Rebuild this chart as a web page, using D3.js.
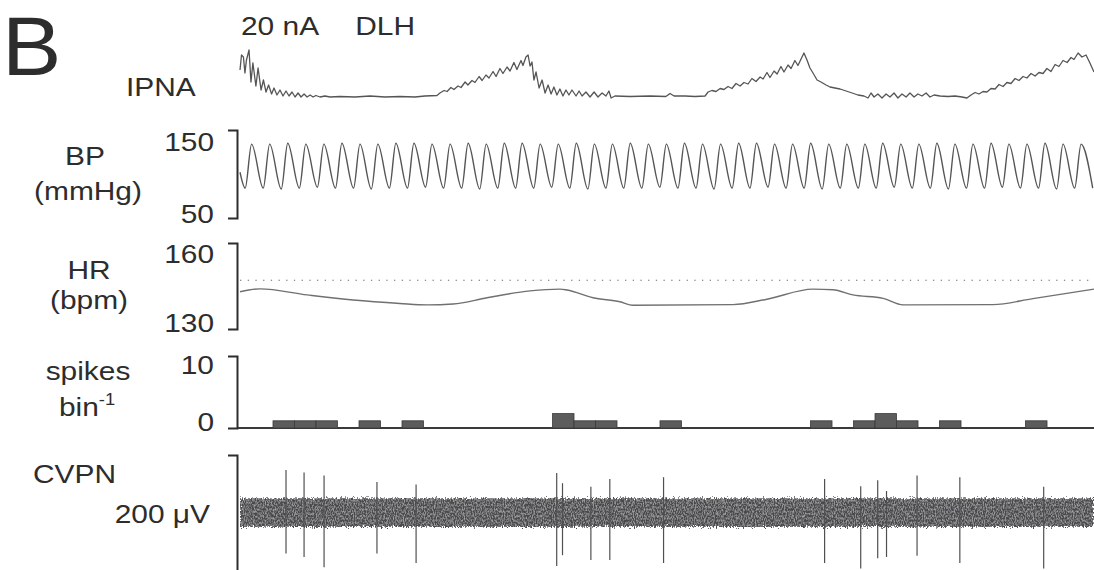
<!DOCTYPE html>
<html>
<head>
<meta charset="utf-8">
<script src="https://cdn.jsdelivr.net/npm/d3@7"></script>
<style>
  html, body { margin: 0; padding: 0; background: #fff; }
  svg { display: block; }
</style>
</head>
<body>
<svg id="fig" width="1094" height="570"></svg>
<script>
// ---- recording window (s); spike histogram uses 1 s bins ----
const duration = 39.72;

// IPNA (integrated phrenic activity, arbitrary units 0-100)
const ipnaT = [0.00,0.07,0.16,0.23,0.30,0.42,0.51,0.60,0.74,0.84,0.98,1.09,1.21,1.33,1.47,1.58,1.72,1.86,2.00,2.14,2.28,2.42,2.56,2.70,2.84,2.98,3.12,3.26,3.40,3.53,3.72,3.95,4.19,4.65,5.35,6.05,6.74,7.44,8.14,8.60,9.16,
  9.30,9.49,9.63,9.81,9.95,10.14,10.28,10.47,10.60,10.79,10.93,11.12,11.26,11.44,11.58,11.77,11.91,12.09,12.23,12.42,12.56,12.74,12.88,13.07,13.16,13.30,13.40,13.49,13.58,13.67,13.77,13.91,14.05,14.19,14.33,14.47,14.60,14.74,14.88,15.02,15.16,15.30,15.44,15.63,15.77,15.91,16.09,16.28,16.47,16.65,16.84,17.02,17.16,17.26,17.44,18.14,19.07,19.81,20.00,20.19,20.70,21.16,21.63,
  21.77,21.95,22.14,22.33,22.51,22.70,22.88,23.07,23.26,23.44,23.63,23.81,24.00,24.19,24.33,24.51,24.65,24.84,24.98,25.16,25.30,25.49,25.63,25.81,25.95,26.14,26.23,26.37,26.51,26.65,26.84,27.02,27.26,27.44,27.67,27.91,28.19,28.47,28.74,29.02,29.21,29.35,29.49,29.67,29.86,30.05,30.23,30.42,30.60,30.79,30.98,31.16,31.35,31.53,31.72,31.91,32.09,32.28,32.56,32.93,33.26,33.58,33.81,
  34.00,34.19,34.37,34.56,34.74,34.93,35.12,35.30,35.49,35.67,35.86,36.05,36.23,36.42,36.60,36.79,36.98,37.16,37.35,37.53,37.72,37.91,38.09,38.28,38.47,38.65,38.79,38.98,39.16,39.35,39.53,39.72];
const ipnaV = [54,84,80,48,74,94,30,68,22,58,14,34,10,24,6,18,4,14,2,12,2,10,0,8,0,6,0,4,0,3,0,2,0,1,0,2,0,1,0,2,3,
  8,13,11,19,15,22,19,30,24,33,29,41,33,44,38,51,41,57,47,60,52,69,55,73,63,80,84,62,70,34,50,18,34,8,24,6,20,4,16,2,14,4,14,2,12,2,10,0,10,0,8,2,12,-2,2,1,2,1,7,2,2,1,2,
  10,13,11,17,15,21,17,27,22,29,26,37,31,40,36,49,39,52,46,61,50,64,57,73,63,80,88,74,58,48,34,30,24,20,18,16,12,8,4,2,-2,8,0,6,-2,6,0,8,-2,6,0,8,0,6,2,8,0,4,2,1,2,0,-2,
  4,9,6,11,10,17,16,25,21,29,27,37,33,41,38,47,42,49,47,57,51,65,61,73,69,79,75,88,80,84,68,50];

// BP (mmHg): start sample, diastolic troughs and systolic peaks per beat
const bpStart = [0, 102];
const bpPeakT = [0.54,1.38,2.22,3.06,3.90,4.74,5.58,6.41,7.25,8.09,8.93,9.77,10.61,11.45,12.29,13.12,13.96,14.80,15.64,16.48,17.32,18.15,18.99,19.83,20.67,21.51,22.35,23.19,24.02,24.86,25.70,26.54,27.38,28.22,29.06,29.89,30.73,31.57,32.41,33.25,34.09,34.93,35.76,36.60,37.44,38.28,39.12];
const bpSys = [134,134,135,134,134,135,134,134,135,135,134,134,135,134,135,135,134,134,135,134,134,135,134,134,135,134,134,135,135,134,134,135,134,134,134,135,134,134,135,134,134,135,134,134,135,134,134];
const bpTroughT = [0.24,1.08,1.92,2.76,3.60,4.44,5.28,6.11,6.95,7.79,8.63,9.47,10.31,11.15,11.99,12.82,13.66,14.50,15.34,16.18,17.02,17.85,18.69,19.53,20.37,21.21,22.05,22.89,23.72,24.56,25.40,26.24,27.08,27.92,28.76,29.59,30.43,31.27,32.11,32.95,33.79,34.63,35.46,36.30,37.14,37.98,38.82,39.66];
const bpDia = [84,84,83,84,85,84,84,83,84,84,85,84,84,83,84,84,84,85,84,83,84,84,84,85,84,84,83,84,84,85,84,84,83,84,84,84,85,84,84,83,84,84,85,84,84,83,84,84];

// HR (bpm) and pre-stimulus reference level
const hrT = [0,0.93,3.12,5.26,7.44,8.70,9.91,11.49,13.49,14.88,15.21,16.42,17.67,18.28,22.93,24.51,26.65,27.58,28.51,29.91,30.84,35.02,36.88,39.72];
const hrV = [143.0,144.0,141.9,140.1,138.9,138.4,138.7,140.9,143.3,143.9,143.6,140.9,139.5,138.3,138.5,140.4,143.9,143.7,141.9,140.7,138.4,138.5,140.6,143.9];
const hrReference = 147;

// spike counts per 1 s bin
const spikeBinStart = 1.535;
const spikeBinWidth = 1;
const spikeCounts = [1,1,1,0,1,0,1,0,0,0,0,0,0,2,1,1,0,0,1,0,0,0,0,0,0,1,0,1,2,1,0,1,0,0,0,1,0,0];

// CVPN (µV): background noise envelope and discriminated units
const cvpnBandT = [0, 10, 20, 30, 39.72];
const cvpnBandUpper = [24, 24, 24, 24, 24];
const cvpnBandLower = [-24, -24, -24, -24, -24];
const cvpnSpikeT = [2.14,2.98,3.91,6.37,8.19,14.73,15.00,16.32,17.20,19.70,27.19,28.87,29.66,30.07,31.49,33.48,37.38];
const cvpnSpikeUp = [71,67,62,51,47,66,49,43,56,59,56,44,54,36,62,59,43];
const cvpnSpikeDown = [-68,-74,-91,-68,-84,-89,-71,-79,-79,-84,-84,-93,-76,-74,-72,-84,-93];

// ---- scales ----
const x = d3.scaleLinear().domain([0, duration]).range([240, 1094]);
const yIpna = d3.scaleLinear().domain([0, 100]).range([97, 47]);
const yBp = d3.scaleLinear().domain([50, 150]).range([218, 130]);
const yHr = d3.scaleLinear().domain([130, 160]).range([329, 243]);
const ySp = d3.scaleLinear().domain([0, 10]).range([428, 356]);
const yCv = d3.scaleLinear().domain([-104, 96]).range([575, 455]);

const svg = d3.select("#fig");
const FONT = "'Liberation Sans', Arial, Helvetica, sans-serif";
const INK = "#2d2d2d";
const TRACE = "#555555";
const SX = 1.15;

// ---- defs: grainy noise band ----
const defs = svg.append("defs");
const f = defs.append("filter").attr("id", "noiseBand")
  .attr("x", 0).attr("y", "-40%").attr("width", "100%").attr("height", "180%");
f.append("feTurbulence").attr("type", "fractalNoise").attr("baseFrequency", "1.1 0.5")
  .attr("numOctaves", 2).attr("seed", 7).attr("result", "n");
f.append("feDisplacementMap").attr("in", "SourceGraphic").attr("in2", "n").attr("scale", 7)
  .attr("xChannelSelector", "R").attr("yChannelSelector", "G").attr("result", "jag");
f.append("feTurbulence").attr("type", "fractalNoise").attr("baseFrequency", "0.9 0.45")
  .attr("numOctaves", 2).attr("seed", 3).attr("result", "g");
f.append("feColorMatrix").attr("in", "g").attr("type", "matrix")
  .attr("values", "0 0 0 0 0.58  0 0 0 0 0.58  0 0 0 0 0.62  0 0 0 1.4 -0.55").attr("result", "gc");
f.append("feComposite").attr("in", "gc").attr("in2", "jag").attr("operator", "in").attr("result", "specks");
const fm = f.append("feMerge");
fm.append("feMergeNode").attr("in", "jag");
fm.append("feMergeNode").attr("in", "specks");

defs.append("clipPath").attr("id", "traceClip").append("rect")
  .attr("x", x(0)).attr("y", 0).attr("width", x(duration) - x(0)).attr("height", 570);

// ---- IPNA ----
const ipna = ipnaT.map((t, i) => ({ t, v: ipnaV[i] }));
svg.append("path").datum(ipna)
  .attr("fill", "none").attr("stroke", TRACE).attr("stroke-width", 1.3).attr("stroke-linejoin", "round")
  .attr("d", d3.line().x(d => x(d.t)).y(d => yIpna(d.v)));

// ---- BP ----
const bp = [{ t: bpStart[0], v: bpStart[1] }]
  .concat(bpTroughT.map((t, i) => ({ t, v: bpDia[i] })))
  .concat(bpPeakT.map((t, i) => ({ t, v: bpSys[i] })))
  .sort((a, b) => a.t - b.t);
svg.append("path").datum(bp)
  .attr("fill", "none").attr("stroke", TRACE).attr("stroke-width", 1.4)
  .attr("d", d3.line().x(d => x(d.t)).y(d => yBp(d.v)).curve(d3.curveMonotoneX));

// ---- HR ----
svg.append("line")
  .attr("x1", x(0)).attr("x2", x(duration)).attr("y1", yHr(hrReference)).attr("y2", yHr(hrReference))
  .attr("stroke", "#6a6a6a").attr("stroke-width", 1.2).attr("stroke-dasharray", "1.3 6.4");
svg.append("path").datum(hrT.map((t, i) => ({ t, v: hrV[i] })))
  .attr("fill", "none").attr("stroke", "#707070").attr("stroke-width", 1.4)
  .attr("d", d3.line().x(d => x(d.t)).y(d => yHr(d.v)).curve(d3.curveMonotoneX));

// ---- spike histogram ----
svg.append("line")
  .attr("x1", 237).attr("x2", x(duration)).attr("y1", ySp(0)).attr("y2", ySp(0))
  .attr("stroke", "#3a3a3a").attr("stroke-width", 2);
svg.append("g").selectAll("rect")
  .data(spikeCounts.map((c, i) => ({ t0: spikeBinStart + i * spikeBinWidth, c })).filter(d => d.c > 0))
  .join("rect")
  .attr("x", d => x(d.t0))
  .attr("width", d => x(d.t0 + spikeBinWidth) - x(d.t0))
  .attr("y", d => ySp(d.c))
  .attr("height", d => ySp(0) - ySp(d.c))
  .attr("fill", "#5c5c5c").attr("stroke", "#3a3a3a").attr("stroke-width", 0.8);

// ---- CVPN ----
const band = cvpnBandT.map((t, i) => ({ t, hi: cvpnBandUpper[i], lo: cvpnBandLower[i] }));
svg.append("g").attr("clip-path", "url(#traceClip)")
  .append("path").datum(band)
  .attr("fill", "#4a4a4a").attr("filter", "url(#noiseBand)")
  .attr("d", d3.area().x(d => x(d.t)).y0(d => yCv(d.lo)).y1(d => yCv(d.hi)));
svg.append("g").selectAll("line")
  .data(cvpnSpikeT.map((t, i) => ({ t, up: cvpnSpikeUp[i], down: cvpnSpikeDown[i] })))
  .join("line")
  .attr("x1", d => x(d.t)).attr("x2", d => x(d.t))
  .attr("y1", d => yCv(d.up)).attr("y2", d => yCv(d.down))
  .attr("stroke", "#505050").attr("stroke-width", 1.2);

// ---- bracket axes ----
function bracket(scale, ticks, topDy, botDy) {
  const g = svg.append("g").attr("transform", "translate(237,0)");
  g.call(d3.axisLeft(scale).tickValues(ticks).tickSizeInner(0).tickSizeOuter(9).tickPadding(23));
  g.select(".domain").attr("stroke", INK).attr("stroke-width", 2).attr("fill", "none");
  g.selectAll(".tick line").remove();
  g.selectAll(".tick text").each(function (d) {
    const top = d === d3.max(ticks);
    d3.select(this).attr("x", null).attr("dy", null)
      .attr("transform", `translate(-23,${top ? topDy : botDy}) scale(${SX},1)`)
      .attr("font-family", FONT).attr("font-size", 26).attr("fill", INK);
  });
  return g;
}
bracket(yBp, [50, 150], 20, 4);
bracket(yHr, [130, 160], 19.5, 2);
bracket(ySp, [0, 10], 17, 2);
bracket(yCv, [], 0, 0);

// ---- labels ----
function label(str, x0, y0, anchor, size, sx) {
  return svg.append("text")
    .attr("transform", `translate(${x0},${y0}) scale(${sx},1)`)
    .attr("text-anchor", anchor).attr("font-family", FONT).attr("font-size", size)
    .attr("fill", INK).text(str);
}
label("B", 2, 75, "start", 84, 1.06);
label("20 nA", 241, 35, "start", 26, SX);
label("DLH", 415, 35, "end", 26, SX);
label("IPNA", 126, 96, "start", 26, SX);
label("BP", 85, 165, "middle", 26, SX);
label("(mmHg)", 88, 200, "middle", 26, SX);
label("HR", 89, 279, "middle", 26, SX);
label("(bpm)", 89, 309, "middle", 26, SX);
label("spikes", 88, 380, "middle", 26, SX);
label("bin", 87, 416, "middle", 26, SX)
  .append("tspan").attr("font-size", 16).attr("dy", -11).text("-1");
label("CVPN", 33, 483, "start", 26, SX);
label("200 \u03bcV", 210, 523, "end", 26, SX);
</script>
</body>
</html>
